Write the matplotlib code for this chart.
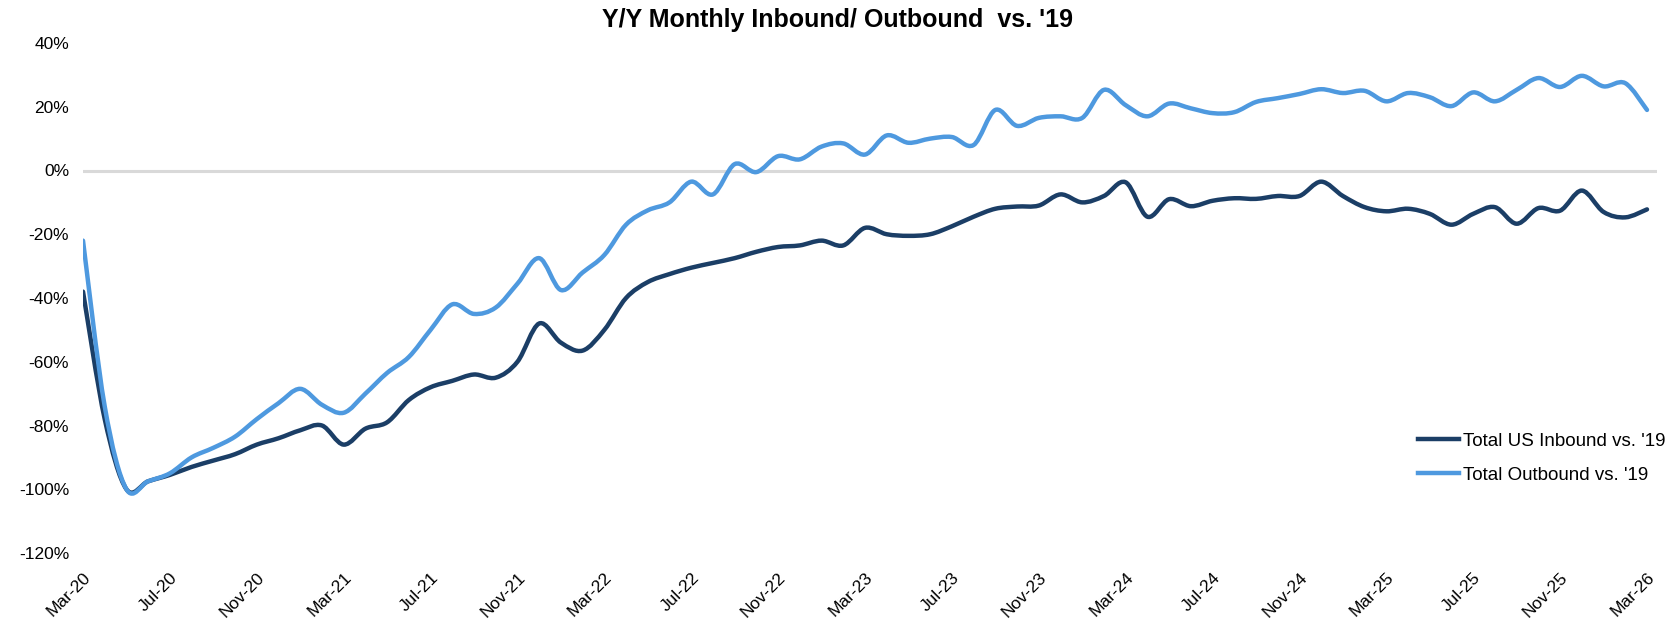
import numpy as np
import pandas as pd
import matplotlib
matplotlib.use("Agg")
import matplotlib.pyplot as plt
from matplotlib.path import Path
from matplotlib.patches import PathPatch
from matplotlib.lines import Line2D

# monthly data, Mar-20 .. Mar-26 (73 months), % vs 2019
months = pd.date_range("2020-03-01", periods=73, freq="MS")
month_labels = [m.strftime("%b-%y") for m in months]

inbound = [-38, -78, -100, -97.5, -95.5, -93, -91, -89, -86, -84,
           -81.5, -80, -86, -81, -79, -72, -68, -66, -64, -65,
           -60, -48, -54, -56.5, -50, -40, -35, -32.5, -30.5, -29,
           -27.5, -25.5, -24, -23.5, -22, -23.5, -18, -20, -20.5, -20,
           -17.5, -14.5, -12, -11.3, -11, -7.5, -10, -8, -3.7, -14.5,
           -9, -11.2, -9.5, -8.7, -8.9, -8, -8, -3.5, -8, -11.5,
           -12.8, -12, -13.6, -17, -13.6, -11.5, -16.7, -11.8, -12.6, -6.3,
           -13, -14.7, -12.2]

outbound = [-22, -74, -100, -97.5, -95, -90, -87, -83.5, -78, -73,
            -68.5, -73.5, -76, -70, -63.5, -58.5, -50, -42, -45, -43,
            -35.5, -27.5, -37.5, -32, -26.5, -17, -12.5, -10, -3.5, -7.5,
            2, -0.5, 4.5, 3.5, 7.5, 8.5, 5, 11, 8.7, 10,
            10.5, 8, 19, 14, 16.5, 17, 16.5, 25.3, 20.5, 17,
            21, 19.5, 18, 18.3, 21.5, 22.7, 24, 25.5, 24.3, 25,
            21.7, 24.3, 23, 20.2, 24.5, 21.7, 25.3, 29, 26.2, 29.7,
            26.4, 27.4, 19]

series_names = ["Total US Inbound vs. '19", "Total Outbound vs. '19"]
series_colors = ["#1b3e66", "#4e99df"]
y_ticks = [-120, -100, -80, -60, -40, -20, 0, 20, 40]


def smooth_path(xs, ys):
    # Excel-style smoothed line: Catmull-Rom segments as cubic Bezier curves
    pts = np.column_stack([xs, ys])
    n = len(pts)
    verts = [pts[0]]
    codes = [Path.MOVETO]
    for i in range(n - 1):
        p0 = pts[i - 1] if i > 0 else pts[i]
        p1 = pts[i]
        p2 = pts[i + 1]
        p3 = pts[i + 2] if i + 2 < n else pts[i + 1]
        c1 = p1 + (p2 - p0) / 6.0
        c2 = p2 - (p3 - p1) / 6.0
        verts += [c1, c2, p2]
        codes += [Path.CURVE4] * 3
    return Path(verts, codes)


W, H = 1677, 625
fig = plt.figure(figsize=(W / 100, H / 100), dpi=100)
ax = fig.add_axes([83 / W, 1 - 553 / H, (1657 - 83) / W, (553 - 43) / H])

x = np.arange(len(months))
ax.axhline(0, color="#d9d9d9", lw=2.2, zorder=1)

for vals, col in zip([inbound, outbound], series_colors):
    y = np.array(vals) / 100.0
    patch = PathPatch(smooth_path(x, y), facecolor="none", edgecolor=col,
                      lw=3.2, capstyle="round", joinstyle="round", zorder=3)
    ax.add_patch(patch)

ax.set_xlim(0, 72 + 10 / 21.72)
ax.set_ylim(-1.2, 0.4)

ax.set_yticks([v / 100 for v in y_ticks])
ax.set_yticklabels([f"{v}%" for v in y_ticks], fontsize=12.5,
                   family=["Liberation Sans", "DejaVu Sans"])
ax.set_xticks(x[::4])
ax.set_xticklabels(month_labels[::4], rotation=45, ha="right",
                   rotation_mode="anchor", fontsize=12.5,
                   family=["Liberation Sans", "DejaVu Sans"])
ax.tick_params(axis="both", length=0)
ax.tick_params(axis="y", pad=10)
ax.tick_params(axis="x", pad=12)
for s in ax.spines.values():
    s.set_visible(False)

fig.text(837 / W, 1 - 20 / H, "Y/Y Monthly Inbound/ Outbound  vs. '19",
         ha="center", va="center", fontsize=18, fontweight="bold",
         family=["Liberation Sans Narrow", "Liberation Sans", "DejaVu Sans"])

handles = [Line2D([], [], color=c, lw=3.2) for c in series_colors]
fig.legend(handles, series_names, loc="center left",
           bbox_to_anchor=(1418 / W, 1 - 458 / H), frameon=False,
           handlelength=2.2, handletextpad=0.2,
           labelspacing=0.9, borderpad=0, borderaxespad=0,
           prop={"family": ["Liberation Sans", "DejaVu Sans"], "size": 13.5})

fig.savefig("out.png", dpi=100)
